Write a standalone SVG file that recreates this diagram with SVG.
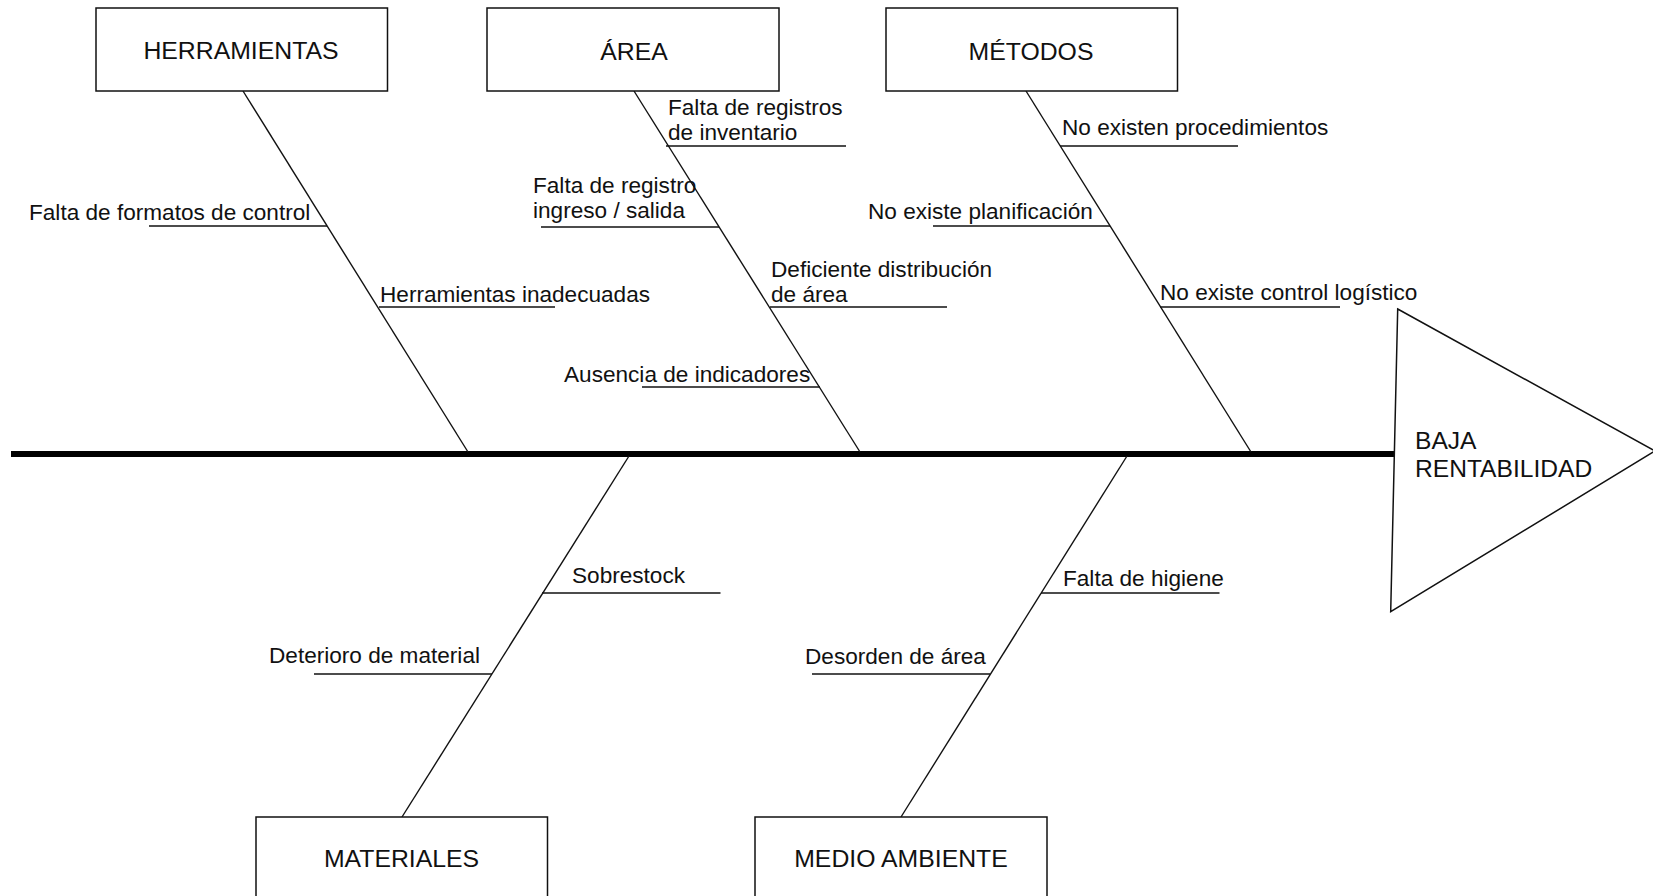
<svg xmlns="http://www.w3.org/2000/svg" width="1653" height="896" viewBox="0 0 1653 896">
<style>
  .box { fill: #fff; stroke: #111; stroke-width: 1.5; }
  .title { font-family: "Liberation Sans", Arial, sans-serif; font-size: 24.8px; fill: #111; text-anchor: middle; }
  .lbl { font-family: "Liberation Sans", Arial, sans-serif; font-size: 22.6px; fill: #111; }
  .eff { font-family: "Liberation Sans", Arial, sans-serif; font-size: 24.6px; fill: #111; }
  .bone { stroke: #111; stroke-width: 1.4; fill: none; }
  .ul { stroke: #111; stroke-width: 1.5; fill: none; }
</style>
<rect width="1653" height="896" fill="#fff"/>

<g id="connectors">
  <line x1="11" y1="454" x2="1394" y2="454" stroke="#000" stroke-width="6"/>
  <line class="bone" x1="243" y1="91" x2="468" y2="452"/>
  <line class="bone" x1="634" y1="91" x2="860" y2="452"/>
  <line class="bone" x1="1026" y1="91" x2="1251" y2="452"/>
  <line class="bone" x1="629" y1="456" x2="402" y2="817"/>
  <line class="bone" x1="1127" y1="456" x2="901" y2="817"/>
</g>

<g id="node-herramientas">
  <rect class="box" x="96" y="8" width="291.5" height="83"/>
  <text class="title" x="241" y="59">HERRAMIENTAS</text>
  <text class="lbl" x="29" y="220">Falta de formatos de control</text>
  <line class="ul" x1="149" y1="226" x2="327" y2="226"/>
  <text class="lbl" x="380" y="302">Herramientas inadecuadas</text>
  <line class="ul" x1="379" y1="307" x2="555" y2="307"/>
</g>

<g id="node-area">
  <rect class="box" x="487" y="8" width="292" height="83"/>
  <text class="title" x="634" y="60">ÁREA</text>
  <text class="lbl" x="668" y="115">Falta de registros</text>
  <text class="lbl" x="668" y="140">de inventario</text>
  <line class="ul" x1="666" y1="146" x2="846" y2="146"/>
  <text class="lbl" x="533" y="193">Falta de registro</text>
  <text class="lbl" x="533" y="218">ingreso / salida</text>
  <line class="ul" x1="541" y1="227" x2="719" y2="227"/>
  <text class="lbl" x="771" y="277">Deficiente distribución</text>
  <text class="lbl" x="771" y="302">de área</text>
  <line class="ul" x1="770" y1="307" x2="947" y2="307"/>
  <text class="lbl" x="564" y="382">Ausencia de indicadores</text>
  <line class="ul" x1="642" y1="387" x2="820" y2="387"/>
</g>

<g id="node-metodos">
  <rect class="box" x="886" y="8" width="291.5" height="83"/>
  <text class="title" x="1031" y="60">MÉTODOS</text>
  <text class="lbl" x="1062" y="135">No existen procedimientos</text>
  <line class="ul" x1="1060" y1="146" x2="1238" y2="146"/>
  <text class="lbl" x="868" y="219">No existe planificación</text>
  <line class="ul" x1="933" y1="226" x2="1110" y2="226"/>
  <text class="lbl" x="1160" y="300">No existe control logístico</text>
  <line class="ul" x1="1160" y1="307" x2="1340" y2="307"/>
</g>

<g id="node-materiales">
  <rect class="box" x="256" y="817" width="291.5" height="90"/>
  <text class="title" x="401.5" y="867">MATERIALES</text>
  <text class="lbl" x="269" y="663">Deterioro de material</text>
  <line class="ul" x1="314" y1="674" x2="492" y2="674"/>
  <text class="lbl" x="572" y="583">Sobrestock</text>
  <line class="ul" x1="542" y1="593" x2="720.5" y2="593"/>
</g>

<g id="node-medio-ambiente">
  <rect class="box" x="755" y="817" width="292" height="90"/>
  <text class="title" x="901" y="867">MEDIO AMBIENTE</text>
  <text class="lbl" x="805" y="664">Desorden de área</text>
  <line class="ul" x1="812" y1="674" x2="990" y2="674"/>
  <text class="lbl" x="1063" y="586">Falta de higiene</text>
  <line class="ul" x1="1041" y1="593" x2="1219.5" y2="593"/>
</g>

<g id="node-efecto">
  <polygon points="1397.7,309 1655,451 1390.7,611.7" fill="#fff" stroke="#111" stroke-width="1.5" stroke-linejoin="miter"/>
  <text class="eff" x="1415" y="449">BAJA</text>
  <text class="eff" x="1415" y="477">RENTABILIDAD</text>
</g>
</svg>
